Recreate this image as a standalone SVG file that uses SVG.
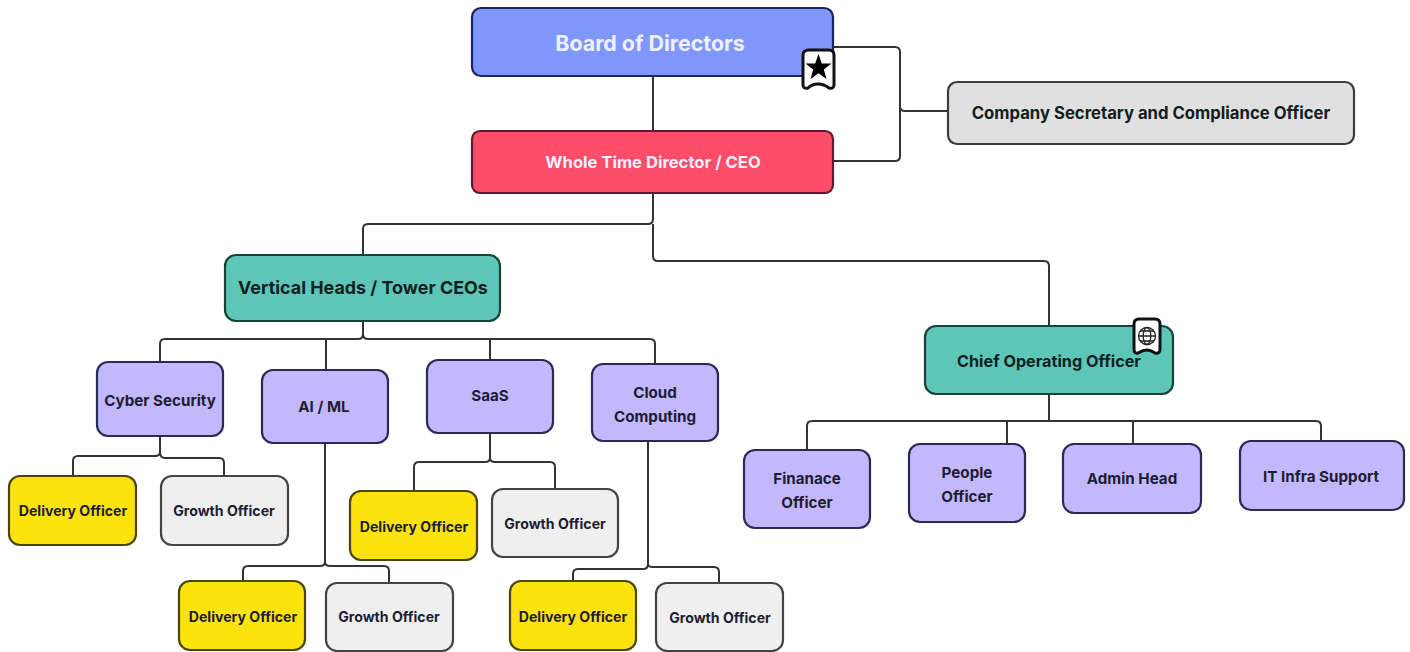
<svg xmlns="http://www.w3.org/2000/svg" width="1410" height="652" viewBox="0 0 1410 652">
<style>
.n{stroke-width:2.2}
.blue{fill:#7f97fb;stroke:#1c2560}
.red{fill:#fe4d69;stroke:#5c1c2c}
.gray{fill:#e0e0e0;stroke:#3c3c3c}
.teal{fill:#5ec6b6;stroke:#17423c}
.lav{fill:#c3b8fe;stroke:#2b2a55}
.yel{fill:#fde30e;stroke:#4b4310}
.lt{fill:#efefef;stroke:#444}
text{font-family:Inter,"Liberation Sans",sans-serif;font-weight:700;text-anchor:middle;fill:#1d1d33;font-size:15.2px}
.off{font-size:14.1px}
.w{fill:#eef0fb}
.k{fill:#10201f}
.c{fill:none;stroke:#333;stroke-width:2}
.b{fill:#fff;stroke:#111;stroke-width:3;stroke-linejoin:round}
.g{fill:none;stroke:#222;stroke-width:1.3}
</style>
<g id="connectors">
<path class="c" d="M653 76V131"/>
<path class="c" d="M833 47H895Q900 47 900 52V156Q900 161 895 161H833"/>
<path class="c" d="M900 106Q900 111 905 111H948"/>
<path class="c" d="M653 193V219Q653 224 648 224H368Q363 224 363 229V255"/>
<path class="c" d="M653 224V256Q653 261 658 261H1044Q1049 261 1049 266V326"/>
<path class="c" d="M363 321V334Q363 339 358 339H165Q160 339 160 344V362"/>
<path class="c" d="M363 334Q363 339 368 339H650Q655 339 655 344V364"/>
<path class="c" d="M326 339V370"/>
<path class="c" d="M490 339V360"/>
<path class="c" d="M1049 394V421"/>
<path class="c" d="M812 421H1316Q1321 421 1321 426V441"/>
<path class="c" d="M812 421Q807 421 807 426V450"/>
<path class="c" d="M1007 421V444"/>
<path class="c" d="M1133 421V444"/>
<path class="c" d="M160 436V452Q160 456 155 456H78Q73 456 73 461V476"/>
<path class="c" d="M160 452Q160 458 165 458H219Q224 458 224 463V476"/>
<path class="c" d="M325 443V562Q325 566 320 566H248Q243 566 243 571V581"/>
<path class="c" d="M325 562Q325 566 330 566H384Q389 566 389 571V583"/>
<path class="c" d="M490 433V458Q490 462 485 462H419Q414 462 414 467V491"/>
<path class="c" d="M490 458Q490 462 495 462H550Q555 462 555 467V489"/>
<path class="c" d="M648 441V564Q648 569 643 569H578Q573 569 573 574V581"/>
<path class="c" d="M648 564Q648 567 653 567H714Q719 567 719 572V583"/>
</g>
<g id="board"><rect class="n blue" x="472" y="8" width="361" height="68" rx="9"/><text class="w" x="650" y="51" style="font-size:21.400px">Board of Directors</text>
<path class="b" d="M809 50H829Q834 50 834 55V85Q834 89 829 88Q824 84 818 84Q812 84 808 88Q803 89 803 85V55Q803 50 809 50Z"/>
<polygon fill="#000" points="818.500,54 821.800,63.400 831.500,63.600 823.800,69.500 826.500,79 818.500,73.300 810.500,79 813.200,69.500 805.500,63.600 815.200,63.400"/></g>
<g id="ceo"><rect class="n red" x="472" y="131" width="361" height="62" rx="8"/><text class="w" x="653" y="168" style="font-size:16.600px">Whole Time Director / CEO</text></g>
<g id="secretary"><rect class="n gray" x="948" y="82" width="406" height="62" rx="9"/><text class="k" x="1151" y="119" style="font-size:16.700px">Company Secretary and Compliance Officer</text></g>
<g id="vertical-heads"><rect class="n teal" x="225" y="255" width="275" height="66" rx="11"/><text class="k" x="363" y="294" style="font-size:17.900px">Vertical Heads / Tower CEOs</text></g>
<g id="coo"><rect class="n teal" x="925" y="326" width="248" height="68" rx="11"/><text class="k" x="1049" y="367" style="font-size:16.200px">Chief Operating Officer</text>
<path class="b" d="M1139 319H1155Q1160 319 1160 324V349Q1160 354 1155 353Q1150 350 1147 350Q1143 350 1138 353Q1134 354 1134 349V324Q1134 319 1139 319Z"/>
<circle class="g" cx="1147" cy="336" r="8.500"/><ellipse class="g" cx="1147" cy="336" rx="3.800" ry="8.500"/><path class="g" d="M1138.500 336H1155.500M1140 331H1154M1140 341H1154"/></g>
<g id="cyber"><rect class="n lav" x="97" y="362" width="126" height="74" rx="11"/><text x="160" y="406">Cyber Security</text></g>
<g id="aiml"><rect class="n lav" x="262" y="370" width="126" height="73" rx="11"/><text x="324" y="412">AI / ML</text></g>
<g id="saas"><rect class="n lav" x="427" y="360" width="126" height="73" rx="11"/><text x="490" y="401">SaaS</text></g>
<g id="cloud"><rect class="n lav" x="592" y="364" width="126" height="77" rx="11"/><text x="655" y="398">Cloud</text><text x="655" y="422">Computing</text></g>
<g id="delivery-cyber"><rect class="n yel" x="9" y="476" width="127" height="69" rx="11"/><text class="off" x="73" y="516">Delivery Officer</text></g>
<g id="growth-cyber"><rect class="n lt" x="161" y="476" width="127" height="69" rx="11"/><text class="off" x="224" y="516">Growth Officer</text></g>
<g id="delivery-saas"><rect class="n yel" x="350" y="491" width="127" height="69" rx="11"/><text class="off" x="414" y="532">Delivery Officer</text></g>
<g id="growth-saas"><rect class="n lt" x="492" y="489" width="126" height="68" rx="11"/><text class="off" x="555" y="529">Growth Officer</text></g>
<g id="delivery-ai"><rect class="n yel" x="179" y="581" width="126" height="69" rx="11"/><text class="off" x="243" y="622">Delivery Officer</text></g>
<g id="growth-ai"><rect class="n lt" x="326" y="583" width="127" height="68" rx="11"/><text class="off" x="389" y="622">Growth Officer</text></g>
<g id="delivery-cloud"><rect class="n yel" x="510" y="581" width="126" height="69" rx="11"/><text class="off" x="573" y="622">Delivery Officer</text></g>
<g id="growth-cloud"><rect class="n lt" x="656" y="583" width="127" height="68" rx="11"/><text class="off" x="720" y="623">Growth Officer</text></g>
<g id="finance"><rect class="n lav" x="744" y="450" width="126" height="78" rx="11"/><text x="807" y="484">Finanace</text><text x="807" y="508">Officer</text></g>
<g id="people"><rect class="n lav" x="909" y="444" width="116" height="78" rx="11"/><text x="967" y="478">People</text><text x="967" y="502">Officer</text></g>
<g id="admin"><rect class="n lav" x="1063" y="444" width="138" height="69" rx="11"/><text x="1132" y="484">Admin Head</text></g>
<g id="it"><rect class="n lav" x="1240" y="441" width="164" height="69" rx="11"/><text x="1321" y="482">IT Infra Support</text></g>
</svg>
